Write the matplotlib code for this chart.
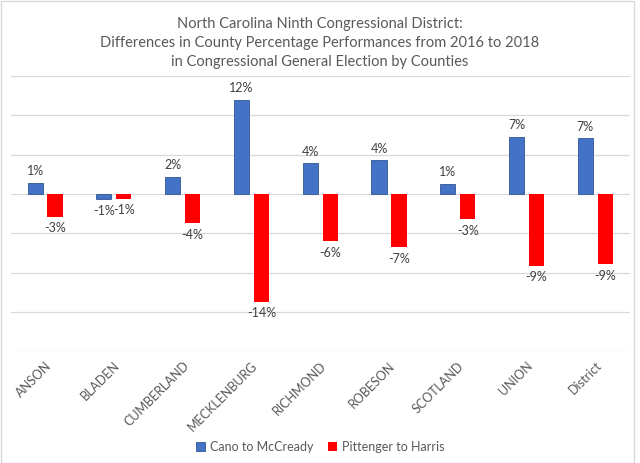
import matplotlib
matplotlib.use("Agg")
import matplotlib.pyplot as plt
import numpy as np

plt.rcParams["font.family"] = ["Lato", "DejaVu Sans"]

counties = ["ANSON", "BLADEN", "CUMBERLAND", "MECKLENBURG", "RICHMOND",
            "ROBESON", "SCOTLAND", "UNION", "District"]
cano = [1.4, -0.7, 2.2, 12.0, 3.9, 4.3, 1.3, 7.3, 7.1]
pittenger = [-2.9, -0.6, -3.7, -13.7, -6.0, -6.8, -3.2, -9.1, -8.9]
series_names = ["Cano to McCready", "Pittenger to Harris"]

blue = "#4472C4"
red = "#FF0000"
txt = "#595959"

fig = plt.figure(figsize=(6.4, 4.63), dpi=100)
ax = fig.add_axes([0.0167, 0.2413, 0.9673, 0.5946])

x = np.arange(len(counties))
w = 0.22
off = 0.145
b1 = ax.bar(x - off, cano, w, color=blue, edgecolor="#2F5597", linewidth=0.6,
            label=series_names[0], zorder=3)
b2 = ax.bar(x + off, pittenger, w, color=red, label=series_names[1], zorder=3)

for bars, vals in ((b1, cano), (b2, pittenger)):
    for r, v in zip(bars, vals):
        cx = r.get_x() + r.get_width() / 2
        if v >= 0:
            ax.annotate(f"{round(v):.0f}%", (cx, v), xytext=(0, 4),
                        textcoords="offset points", ha="center", va="bottom",
                        fontsize=9, color="#404040")
        else:
            ax.annotate(f"{round(v):.0f}%", (cx, v), xytext=(0, -4),
                        textcoords="offset points", ha="center", va="top",
                        fontsize=9, color="#404040")

ax.set_xlim(-0.5, len(counties) - 0.5)
ax.set_ylim(-20, 15)
ax.set_yticks(np.arange(-20, 16, 5))
ax.yaxis.grid(True, color="#D9D9D9", linewidth=0.9, zorder=0)
ax.set_yticklabels([])
ax.tick_params(axis="y", length=0)
ax.tick_params(axis="x", length=0, pad=6)
ax.set_xticks(x)
ax.set_xticklabels(counties, rotation=45, ha="right", rotation_mode="anchor",
                   fontsize=9, color=txt)
for s in ax.spines.values():
    s.set_visible(False)

fig.text(0.5, 0.963, "North Carolina Ninth Congressional District:\n"
         "Differences in County Percentage Performances from 2016 to 2018\n"
         "in Congressional General Election by Counties",
         ha="center", va="top", fontsize=10.5, color=txt, linespacing=1.45)

fig.legend(loc="center", bbox_to_anchor=(0.5, 0.035), ncol=2, frameon=False,
           fontsize=9, handlelength=0.7, handleheight=0.7, columnspacing=1.2,
           handletextpad=0.4, labelcolor=txt)

fig.patches.append(plt.Rectangle((0.001, 0.001), 0.99, 0.997, transform=fig.transFigure,
                                 fill=False, edgecolor="#D9D9D9", linewidth=1))

fig.savefig("out.png", dpi=100)
